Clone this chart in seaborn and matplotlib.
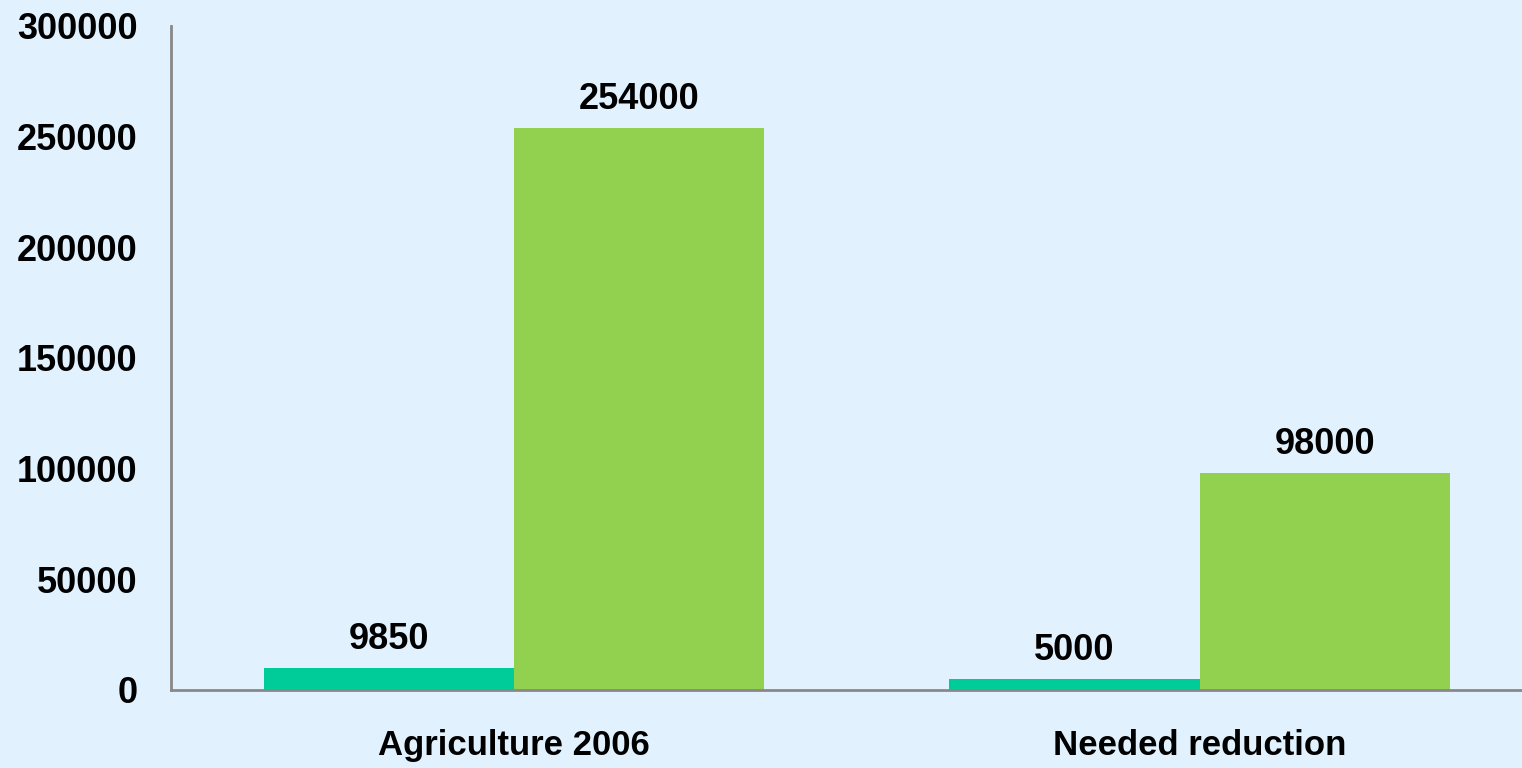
import matplotlib
matplotlib.use("Agg")
import matplotlib.pyplot as plt
import seaborn as sns
import pandas as pd

categories = ["Agriculture 2006", "Needed reduction"]
series_names = ["Series A", "Series B"]
series_a = [9850, 5000]
series_b = [254000, 98000]
yticks = [0, 50000, 100000, 150000, 200000, 250000, 300000]

df = pd.DataFrame({
    "category": categories * 2,
    "series": [series_names[0]] * 2 + [series_names[1]] * 2,
    "value": series_a + series_b,
})

sns.set_theme(style="white")
plt.rcParams['font.family'] = ['Liberation Sans', 'DejaVu Sans']

bg = "#E1F2FE"
fig = plt.figure(figsize=(15.22, 7.68), dpi=100, facecolor=bg)
ax = fig.add_axes([0.1124, 0.1016, 0.8876, 0.8646])
ax.set_facecolor(bg)

sns.barplot(data=df, x="category", y="value", hue="series",
            palette=["#00CC99", "#92D050"], width=0.73, gap=0,
            saturation=1, legend=False, linewidth=0, ax=ax)

for container in ax.containers:
    ax.bar_label(container, labels=[f"{int(v)}" for v in container.datavalues],
                 padding=8, fontsize=26, fontweight="bold", color="black")

ax.set_ylim(0, 300000)
ax.set_xlim(-0.5, 1.47)
ax.set_yticks(yticks)
ax.set_yticklabels([str(t) for t in yticks], fontsize=26, fontweight="bold", color="black")
ax.tick_params(axis="y", length=0, pad=24)
ax.tick_params(axis="x", length=0, pad=28, labelsize=25, labelcolor="black")
for lbl in ax.get_xticklabels():
    lbl.set_fontweight("bold")
ax.set_xlabel("")
ax.set_ylabel("")
for s in ["top", "right"]:
    ax.spines[s].set_visible(False)
for s in ["left", "bottom"]:
    ax.spines[s].set_color("#888888")
    ax.spines[s].set_linewidth(2)

fig.savefig("out.png", dpi=100, facecolor=bg)
